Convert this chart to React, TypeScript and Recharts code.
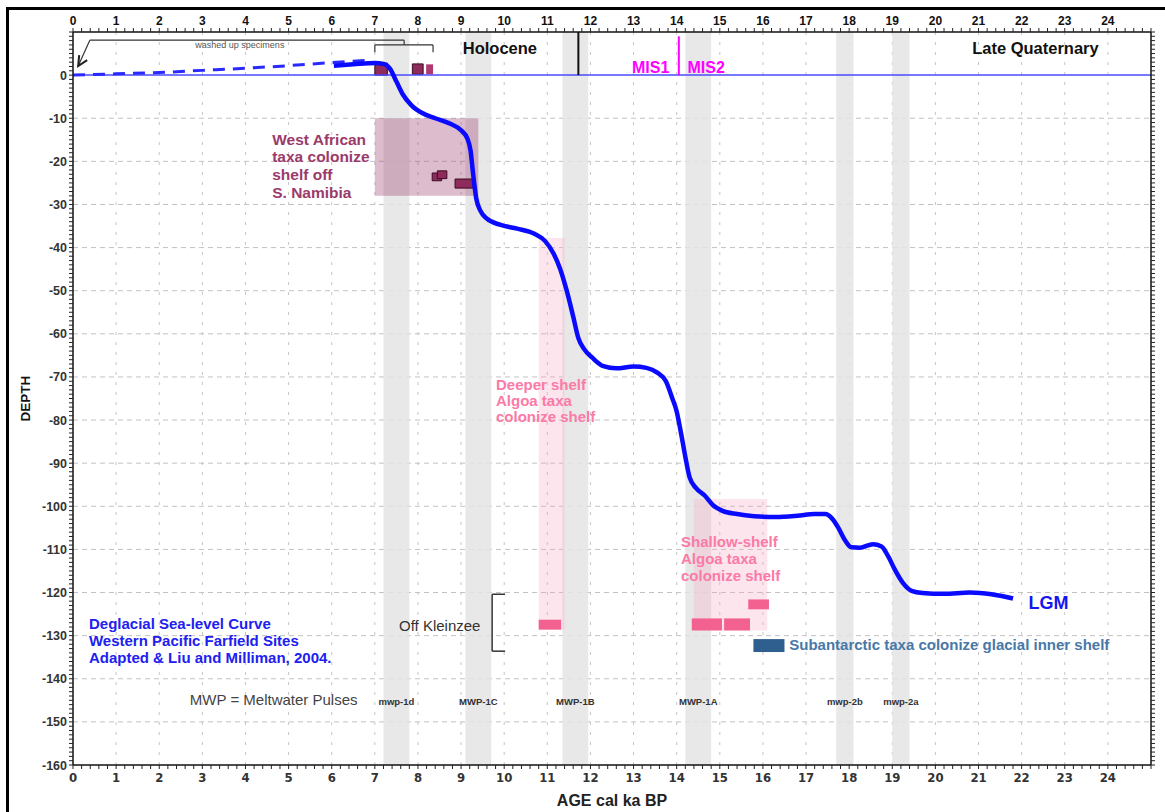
import React from 'react';
import {
  LineChart,
  Line,
  XAxis,
  YAxis,
  CartesianGrid,
  ReferenceArea,
  ReferenceLine,
  ReferenceDot,
} from 'recharts';

// ---------- axes / ticks ----------
const ageLabels = [0, 1, 2, 3, 4, 5, 6, 7, 8, 9, 10, 11, 12, 13, 14, 15, 16, 17, 18, 19, 20, 21, 22, 23, 24];
const depthLabels = [0, -10, -20, -30, -40, -50, -60, -70, -80, -90, -100, -110, -120, -130, -140, -150, -160];
const gridAges = [1, 2, 3, 4, 5, 6, 7, 8, 9, 10, 11, 12, 13, 14, 15, 16, 17, 18, 19, 20, 21, 22, 23, 24];
const gridDepths = [-10, -20, -30, -40, -50, -60, -70, -80, -90, -100, -110, -120, -130, -140, -150];
const minorAgeTicks = Array.from({ length: 126 }, (_, i) => i / 5);
const minorDepthTicks = Array.from({ length: 171 }, (_, i) => 10 - i);

// ---------- series ----------
const seaLevelCurve = [
  { x: 6.05, y: 2.2 }, { x: 6.5, y: 2.5 }, { x: 7.0, y: 2.8 }, { x: 7.2, y: 2.6 },
  { x: 7.35, y: 1.5 }, { x: 7.5, y: -1.5 }, { x: 7.65, y: -4.5 }, { x: 7.85, y: -7.0 },
  { x: 8.1, y: -8.8 }, { x: 8.4, y: -10.0 }, { x: 8.75, y: -11.3 }, { x: 9.0, y: -12.8 },
  { x: 9.15, y: -14.8 }, { x: 9.22, y: -17.5 }, { x: 9.28, y: -23 }, { x: 9.35, y: -28.5 },
  { x: 9.45, y: -31.5 }, { x: 9.6, y: -33.3 }, { x: 9.9, y: -34.7 }, { x: 10.3, y: -35.6 },
  { x: 10.7, y: -36.8 }, { x: 10.95, y: -38.5 }, { x: 11.15, y: -41.5 }, { x: 11.3, y: -45 },
  { x: 11.45, y: -50 }, { x: 11.6, y: -56 }, { x: 11.72, y: -61 }, { x: 11.85, y: -63.5 },
  { x: 12.05, y: -65.6 }, { x: 12.3, y: -67.5 }, { x: 12.6, y: -68.0 }, { x: 13.0, y: -67.6 },
  { x: 13.3, y: -67.9 }, { x: 13.55, y: -69.0 }, { x: 13.75, y: -71.0 }, { x: 13.9, y: -75 },
  { x: 14.0, y: -78 }, { x: 14.1, y: -83 }, { x: 14.2, y: -88.5 }, { x: 14.3, y: -93.3 },
  { x: 14.45, y: -95.8 }, { x: 14.65, y: -97.5 }, { x: 14.85, y: -99.8 }, { x: 15.05, y: -101.0 },
  { x: 15.4, y: -101.8 }, { x: 15.8, y: -102.3 }, { x: 16.3, y: -102.5 }, { x: 16.8, y: -102.2 },
  { x: 17.2, y: -101.8 }, { x: 17.45, y: -101.8 }, { x: 17.6, y: -102.8 }, { x: 17.75, y: -105.0 },
  { x: 17.9, y: -107.8 }, { x: 18.05, y: -109.5 }, { x: 18.25, y: -109.6 }, { x: 18.55, y: -108.8 },
  { x: 18.75, y: -109.3 }, { x: 18.9, y: -111.5 }, { x: 19.05, y: -114.5 }, { x: 19.25, y: -117.8 },
  { x: 19.45, y: -119.6 }, { x: 19.7, y: -120.1 }, { x: 20.2, y: -120.3 }, { x: 20.8, y: -120.0 },
  { x: 21.3, y: -120.4 }, { x: 21.8, y: -121.4 },
];

const washedUpTrend = [
  { x: 0, y: 0 }, { x: 1, y: 0.3 }, { x: 2, y: 0.6 }, { x: 3, y: 1.1 },
  { x: 4, y: 1.6 }, { x: 5, y: 2.2 }, { x: 6, y: 2.9 }, { x: 6.8, y: 3.4 },
];

// ---------- annotations (data units) ----------
const mwpBands = [
  { name: 'mwp-1d', from: 7.2, to: 7.8 },
  { name: 'MWP-1C', from: 9.1, to: 9.7 },
  { name: 'MWP-1B', from: 11.35, to: 11.95 },
  { name: 'MWP-1A', from: 14.2, to: 14.8 },
  { name: 'mwp-2b', from: 17.7, to: 18.1 },
  { name: 'mwp-2a', from: 19.0, to: 19.4 },
];
const mwpLabelDepth = -145.2;

const westAfricanZone = { x1: 7.0, x2: 9.4, y1: -28, y2: -10 };
const namibiaSpecimens = [
  { x1: 7.0, x2: 7.29, y1: 0, y2: 2.8 },
  { x1: 7.87, x2: 8.12, y1: 0.2, y2: 2.6 },
  { x1: 8.33, x2: 8.55, y1: -24.5, y2: -22.7 },
  { x1: 8.45, x2: 8.67, y1: -24.0, y2: -22.2 },
  { x1: 8.86, x2: 9.28, y1: -26.2, y2: -24.1 },
];
const namibiaSpecimenLight = { x1: 8.19, x2: 8.35, y1: 0.2, y2: 2.5 };

const algoaZones = [
  { x1: 10.8, x2: 11.4, y1: -128.7, y2: -37.8 },
  { x1: 14.4, x2: 16.1, y1: -128.8, y2: -98.3 },
];
const algoaSamples = [
  { x1: 10.8, x2: 11.32, y1: -128.6, y2: -126.3 },
  { x1: 14.35, x2: 15.05, y1: -128.8, y2: -126.0 },
  { x1: 15.1, x2: 15.7, y1: -128.8, y2: -126.0 },
  { x1: 15.66, x2: 16.14, y1: -123.9, y2: -121.6 },
];
const subantarcticSample = { x1: 15.78, x2: 16.5, y1: -133.8, y2: -130.8 };

const holoceneBoundary = 11.72;
const misBoundary = 14.05;

const washedUpBracket = [
  [{ x: 0.39, y: 8.1 }, { x: 7.68, y: 8.1 }],
  [{ x: 0.39, y: 8.1 }, { x: 0.12, y: 2.1 }],
  [{ x: 7.68, y: 8.1 }, { x: 7.68, y: 7.0 }],
  [{ x: 7.0, y: 7.0 }, { x: 8.35, y: 7.0 }],
  [{ x: 7.0, y: 7.0 }, { x: 7.0, y: 5.3 }],
  [{ x: 8.35, y: 7.0 }, { x: 8.35, y: 5.3 }],
];
const arrowTip = { x: 0.12, y: 2.1 };
const kleinzeeBracket = [
  [{ x: 9.72, y: -120.4 }, { x: 9.72, y: -133.6 }],
  [{ x: 9.72, y: -120.4 }, { x: 10.02, y: -120.4 }],
  [{ x: 9.72, y: -133.6 }, { x: 10.02, y: -133.6 }],
];

const txtWashed = { x: 3.87, y: 7.0, lines: ['washed up specimens'] };
const txtHolocene = { x: 9.9, y: 6.3, lines: ['Holocene'] };
const txtLateQ = { x: 22.32, y: 6.3, lines: ['Late Quaternary'] };
const txtMIS1 = { x: 13.83, y: 1.9, lines: ['MIS1'] };
const txtMIS2 = { x: 14.25, y: 1.9, lines: ['MIS2'] };
const txtWestAfrican = { x: 4.62, y: -14.84, lines: ['West African', 'taxa colonize', 'shelf off', 'S. Namibia'] };
const txtDeeper = { x: 9.81, y: -71.7, lines: ['Deeper shelf', 'Algoa taxa', 'colonize shelf'] };
const txtShallow = { x: 14.1, y: -108.3, lines: ['Shallow-shelf', 'Algoa taxa', 'colonize shelf'] };
const txtLGM = { x: 22.16, y: -122.4, lines: ['LGM'] };
const txtSubant = { x: 16.61, y: -132.2, lines: ['Subantarctic taxa colonize glacial inner shelf'] };
const txtKleinzee = { x: 7.56, y: -127.6, lines: ['Off Kleinzee'] };
const txtSource = {
  x: 0.37,
  y: -127.3,
  lines: ['Deglacial Sea-level Curve', 'Western Pacific Farfield Sites', 'Adapted & Liu and Milliman, 2004.'],
};
const txtMwpDef = { x: 2.71, y: -144.95, lines: ['MWP = Meltwater Pulses'] };

// ---------- rendering helpers ----------
const FONT = "'Liberation Sans', Arial, sans-serif";
const NARROW = "'Liberation Sans Narrow', 'DejaVu Sans Condensed', 'Liberation Sans', Arial, sans-serif";
const isInt = (v: number) => Math.abs(v - Math.round(v)) < 1e-6;

type TS = {
  size: number;
  color: string;
  weight?: string;
  anchor?: 'start' | 'middle' | 'end';
  lh?: number;
  family?: string;
};

const textShape = (lines: string[], s: TS) => (p: any) => (
  <text
    fontFamily={s.family || FONT}
    fontSize={s.size}
    fontWeight={s.weight || 'normal'}
    fill={s.color}
    textAnchor={s.anchor || 'start'}
  >
    {lines.map((l, i) => (
      <tspan key={i} x={p.cx} y={p.cy + i * (s.lh || 0)} dy="0.35em">
        {l}
      </tspan>
    ))}
  </text>
);

const BottomTick = (props: any) => {
  const { x, y, payload } = props;
  const v = payload.value;
  if (!isInt(v) || !ageLabels.includes(Math.round(v))) return <g />;
  return (
    <text x={x} y={y} dy={11} textAnchor="middle" fontFamily={NARROW} fontWeight="bold" fontSize={13} fill="#333">
      {Math.round(v)}
    </text>
  );
};
const TopTick = (props: any) => {
  const { x, y, payload } = props;
  const v = payload.value;
  if (!isInt(v) || !ageLabels.includes(Math.round(v))) return <g />;
  return (
    <text x={x} y={y} dy={-1} textAnchor="middle" fontFamily={FONT} fontWeight="bold" fontSize={12} fill="#111">
      {Math.round(v)}
    </text>
  );
};
const LeftTick = (props: any) => {
  const { x, y, payload } = props;
  const v = payload.value;
  if (!depthLabels.includes(v)) return <g />;
  return (
    <text x={x} y={y} dy={4.5} textAnchor="end" fontFamily={FONT} fontWeight="bold" fontSize={12.5} fill="#333">
      {v}
    </text>
  );
};
const NoTick = () => <g />;

const ArrowHead = (p: any) => (
  <path d={`M ${p.cx + 1} ${p.cy - 11} L ${p.cx} ${p.cy} L ${p.cx + 9} ${p.cy - 6}`} stroke="#222" strokeWidth={2} fill="none" />
);

const txt = (key: string, t: { x: number; y: number; lines: string[] }, s: TS) => (
  <ReferenceDot key={key} x={t.x} y={t.y} r={0} ifOverflow="visible" shape={textShape(t.lines, s)} />
);

export default function App() {
  return (
    <div style={{ position: 'fixed', left: 0, top: 0, width: 1165, height: 812, overflow: 'hidden', background: '#fff' }}>
      <div
        style={{
          position: 'absolute',
          left: 6,
          top: 7,
          width: 1200,
          height: 900,
          borderLeft: '3px solid #000',
          borderTop: '3px solid #000',
        }}
      />
      <div style={{ position: 'absolute', left: 0, top: 0 }}>
        <LineChart width={1165} height={812} margin={{ top: 2, right: 0, bottom: 17, left: 20 }}>
          <XAxis
            xAxisId={0}
            dataKey="x"
            type="number"
            domain={[0, 25]}
            ticks={minorAgeTicks}
            interval={0}
            allowDataOverflow
            height={30}
            tick={BottomTick}
            tickSize={4}
            stroke="#111"
            axisLine={{ stroke: '#111', strokeWidth: 1.5 }}
            tickLine={{ stroke: '#222' }}
            label={({ viewBox }: any) => (
              <text
                x={viewBox.x + viewBox.width / 2}
                y={viewBox.y + 35}
                dy="0.35em"
                textAnchor="middle"
                fontFamily={FONT}
                fontWeight="bold"
                fontSize={16}
                fill="#222"
              >
                AGE cal ka BP
              </text>
            )}
          />
          <XAxis
            xAxisId="top"
            orientation="top"
            dataKey="x"
            type="number"
            domain={[0, 25]}
            ticks={minorAgeTicks}
            interval={0}
            allowDataOverflow
            height={30}
            tick={TopTick}
            tickSize={4}
            stroke="#111"
            axisLine={{ stroke: '#111', strokeWidth: 1.5 }}
            tickLine={{ stroke: '#222' }}
          />
          <YAxis
            yAxisId={0}
            type="number"
            domain={[-160, 10]}
            ticks={minorDepthTicks}
            interval={0}
            allowDataOverflow
            width={53}
            tick={LeftTick}
            tickSize={4}
            stroke="#111"
            axisLine={{ stroke: '#111', strokeWidth: 1.5 }}
            tickLine={{ stroke: '#222' }}
            label={({ viewBox }: any) => {
              const cx = viewBox.x + 5;
              const cy = viewBox.y + viewBox.height / 2;
              return (
                <text
                  x={cx}
                  y={cy}
                  transform={`rotate(-90 ${cx} ${cy})`}
                  textAnchor="middle"
                  dy="0.35em"
                  fontFamily={FONT}
                  fontWeight="bold"
                  fontSize={13.5}
                  fill="#111"
                >
                  DEPTH
                </text>
              );
            }}
          />
          <YAxis
            yAxisId="right"
            orientation="right"
            type="number"
            domain={[-160, 10]}
            ticks={minorDepthTicks}
            interval={0}
            allowDataOverflow
            width={14}
            tick={NoTick}
            tickSize={4}
            stroke="#111"
            axisLine={{ stroke: '#111', strokeWidth: 1.5 }}
            tickLine={{ stroke: '#222' }}
          />

          {mwpBands.map((b) => (
            <ReferenceArea key={b.name} x1={b.from} x2={b.to} y1={-160} y2={10} fill="#e4e4e4" fillOpacity={0.85} stroke="none" />
          ))}

          <CartesianGrid vertical={false} horizontalValues={gridDepths} stroke="#c2c2c2" strokeDasharray="5 4" />
          <CartesianGrid horizontal={false} verticalValues={gridAges} stroke="#c6c6c6" strokeDasharray="3 7" />

          <ReferenceArea {...westAfricanZone} fill="#993366" fillOpacity={0.33} stroke="none" />
          {algoaZones.map((z, i) => (
            <ReferenceArea key={'az' + i} {...z} fill="#f9a8c8" fillOpacity={0.3} stroke="none" />
          ))}

          <ReferenceLine y={0} stroke="#4a4aff" strokeWidth={1.5} />
          <ReferenceLine
            segment={[{ x: holoceneBoundary, y: 10 }, { x: holoceneBoundary, y: 0 }]}
            stroke="#111"
            strokeWidth={2}
          />
          <ReferenceLine
            segment={[{ x: misBoundary, y: 9 }, { x: misBoundary, y: 0 }]}
            stroke="#ff00ff"
            strokeWidth={2}
          />

          {namibiaSpecimens.map((r, i) => (
            <ReferenceArea key={'ns' + i} {...r} fill="#8e2a5c" fillOpacity={1} stroke="#3a0c22" strokeWidth={1} />
          ))}
          <ReferenceArea {...namibiaSpecimenLight} fill="#b13a72" fillOpacity={1} stroke="none" />
          {algoaSamples.map((r, i) => (
            <ReferenceArea key={'as' + i} {...r} fill="#f2618f" fillOpacity={1} stroke="none" />
          ))}
          <ReferenceArea {...subantarcticSample} fill="#2f5f8f" fillOpacity={1} stroke="none" />

          {washedUpBracket.map((s, i) => (
            <ReferenceLine key={'wb' + i} segment={s as any} stroke="#333" strokeWidth={1.2} ifOverflow="visible" />
          ))}
          <ReferenceDot x={arrowTip.x} y={arrowTip.y} r={0} ifOverflow="visible" shape={ArrowHead} />
          {kleinzeeBracket.map((s, i) => (
            <ReferenceLine key={'kb' + i} segment={s as any} stroke="#333" strokeWidth={1.5} />
          ))}

          <Line
            data={washedUpTrend}
            dataKey="y"
            type="monotone"
            stroke="#2a2aff"
            strokeWidth={3}
            strokeDasharray="12 8"
            dot={false}
            isAnimationActive={false}
          />
          <Line
            data={seaLevelCurve}
            dataKey="y"
            type="monotone"
            stroke="#0a0aff"
            strokeWidth={4.5}
            dot={false}
            isAnimationActive={false}
          />

          {txt('t1', txtWashed, { size: 9, color: '#555', anchor: 'middle' })}
          {txt('t2', txtHolocene, { size: 16.5, color: '#111', weight: 'bold', anchor: 'middle' })}
          {txt('t3', txtLateQ, { size: 16.5, color: '#111', weight: 'bold', anchor: 'middle' })}
          {txt('t4', txtMIS1, { size: 16, color: '#ff00ff', weight: 'bold', anchor: 'end' })}
          {txt('t5', txtMIS2, { size: 16, color: '#ff00ff', weight: 'bold', anchor: 'start' })}
          {txt('t6', txtWestAfrican, { size: 15.5, color: '#9b3a6a', weight: 'bold', lh: 17.7 })}
          {txt('t7', txtDeeper, { size: 15, color: '#fb7aa6', weight: 'bold', lh: 16 })}
          {txt('t8', txtShallow, { size: 15, color: '#fb7aa6', weight: 'bold', lh: 17 })}
          {txt('t9', txtLGM, { size: 18, color: '#1515ee', weight: 'bold' })}
          {txt('t10', txtSubant, { size: 15, color: '#4878a8', weight: 'bold' })}
          {txt('t11', txtKleinzee, { size: 15, color: '#333' })}
          {txt('t12', txtSource, { size: 15, color: '#2020f0', weight: 'bold', lh: 17 })}
          {txt('t13', txtMwpDef, { size: 15, color: '#444' })}
          {mwpBands.map((b) =>
            txt('m' + b.name, { x: (b.from + b.to) / 2, y: mwpLabelDepth, lines: [b.name] }, {
              size: 9.5,
              color: '#333',
              weight: 'bold',
              anchor: 'middle',
            })
          )}
        </LineChart>
      </div>
    </div>
  );
}
